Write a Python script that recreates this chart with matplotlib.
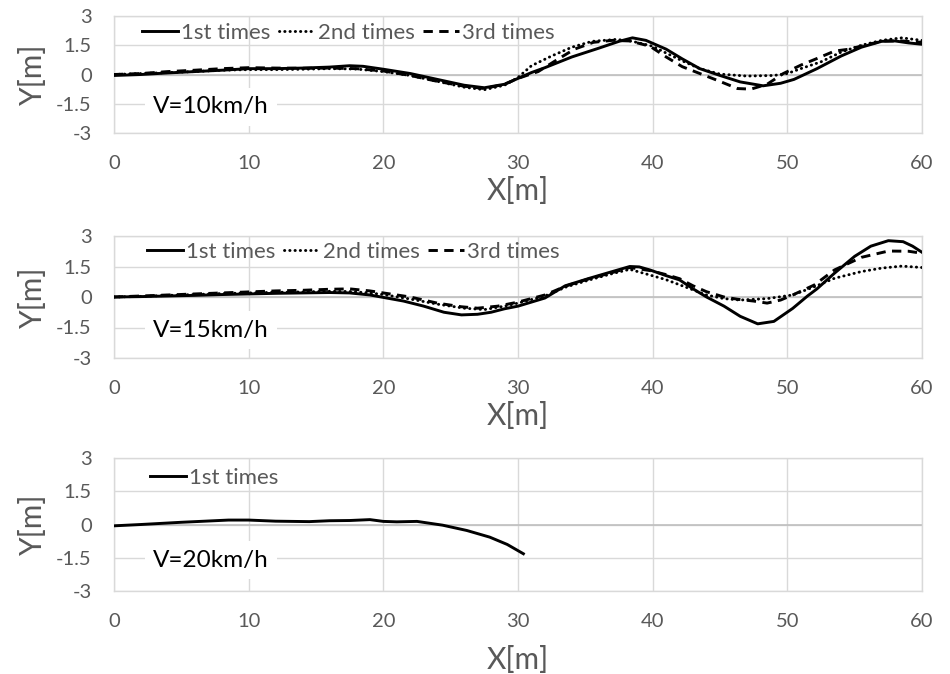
import numpy as np
import matplotlib
matplotlib.use("Agg")
import matplotlib.pyplot as plt

plt.rcParams['font.family'] = ['Lato', 'DejaVu Sans']

# V=10km/h
x10_1 = [0, 2, 4, 6, 8, 10, 12, 14, 16, 17.5, 18.5, 20, 22, 24, 26, 27.5, 29, 30, 31, 32, 34, 36,
         37.5, 38.5, 39.5, 41, 42.2, 43.5, 45, 46.5, 48.2, 49.5, 50.5, 52.2, 54, 55.5, 57, 58, 59, 60]
y10_1 = [-0.05, 0.0, 0.08, 0.15, 0.22, 0.3, 0.3, 0.33, 0.38, 0.45, 0.42, 0.27, 0.05, -0.25, -0.55,
         -0.68, -0.5, -0.2, 0.1, 0.35, 0.9, 1.35, 1.7, 1.88, 1.75, 1.3, 0.8, 0.3, -0.05, -0.38,
         -0.58, -0.45, -0.25, 0.3, 0.95, 1.4, 1.7, 1.72, 1.62, 1.55]
x10_2 = [0, 2, 4, 6, 8, 10, 12, 14, 16, 18, 20, 22, 24, 26, 27.5, 29, 30, 31, 32.5, 34, 35.5, 37.3,
         38.5, 40, 41, 42.2, 43.5, 45, 47, 49, 50, 51, 52.5, 54, 55.5, 57, 58.5, 60]
y10_2 = [0.0, 0.05, 0.1, 0.15, 0.22, 0.25, 0.25, 0.27, 0.3, 0.28, 0.15, -0.05, -0.35, -0.65, -0.78,
         -0.55, -0.15, 0.45, 0.95, 1.4, 1.7, 1.8, 1.7, 1.45, 1.1, 0.7, 0.3, 0.02, -0.08, -0.05,
         0.05, 0.3, 0.65, 1.15, 1.5, 1.75, 1.88, 1.75]
x10_3 = [0, 2, 4, 6, 8, 10, 12, 14, 16, 18, 20, 22, 24, 26, 27.5, 29, 30, 31.5, 33, 34.2, 35.6, 37,
         38.3, 39.8, 41, 42.2, 43.5, 44.8, 46.3, 47.3, 48.5, 49.7, 51, 52.2, 53.5, 54.6, 56, 57.2,
         58.5, 60]
y10_3 = [0.0, 0.05, 0.15, 0.22, 0.3, 0.35, 0.33, 0.32, 0.33, 0.3, 0.18, -0.05, -0.35, -0.6, -0.72,
         -0.5, -0.2, 0.15, 0.8, 1.3, 1.65, 1.75, 1.72, 1.45, 0.9, 0.4, 0.05, -0.3, -0.72, -0.75,
         -0.5, 0.05, 0.48, 0.82, 1.2, 1.3, 1.55, 1.72, 1.72, 1.65]

# V=15km/h
x15_1 = [0, 2, 4, 6, 8, 10, 12, 14, 16, 17.5, 19, 20, 21.5, 23, 24.5, 25.8, 27, 28, 29, 30, 31, 32,
         33.5, 35.3, 37, 38.3, 39, 39.8, 41, 42, 43, 44, 45.3, 46.5, 47.8, 49, 50.4, 51.5, 52.2,
         53.5, 55, 56.2, 57.5, 58.6, 59.3, 60]
y15_1 = [0.0, 0.02, 0.05, 0.08, 0.12, 0.15, 0.18, 0.2, 0.22, 0.2, 0.1, -0.02, -0.2, -0.45, -0.75,
         -0.88, -0.85, -0.75, -0.58, -0.45, -0.25, -0.05, 0.55, 0.92, 1.25, 1.5, 1.48, 1.33, 1.05,
         0.84, 0.4, 0.0, -0.45, -0.95, -1.32, -1.2, -0.56, 0.05, 0.4, 1.17, 2.0, 2.5, 2.77, 2.72,
         2.5, 2.2]
x15_2 = [0, 2, 4, 6, 8, 10, 12, 14, 16, 17.5, 19, 20, 22, 24, 26, 27.5, 29, 30, 32, 33.6, 35.3, 37,
         38.3, 39.8, 41, 42, 43, 44, 45.3, 46.5, 48.5, 50.4, 52, 53.5, 55.5, 57, 58.5, 60]
y15_2 = [0.0, 0.03, 0.08, 0.12, 0.17, 0.2, 0.23, 0.25, 0.28, 0.27, 0.2, 0.12, -0.1, -0.35, -0.55,
         -0.62, -0.45, -0.3, 0.05, 0.5, 0.84, 1.15, 1.36, 1.08, 0.85, 0.6, 0.35, 0.1, -0.08, -0.15,
         -0.08, 0.1, 0.5, 0.92, 1.25, 1.42, 1.52, 1.45]
x15_3 = [0, 2, 4, 6, 8, 10, 12, 14, 16, 17.5, 19, 20, 22, 24, 25.8, 27, 28.5, 30, 32, 33.6, 35.3, 37,
         38.3, 39.8, 41, 42, 43, 44, 45.3, 46.3, 47.5, 48.5, 49.5, 50.4, 52, 53.5, 55.5, 57.5, 59,
         60]
y15_3 = [0.0, 0.05, 0.1, 0.15, 0.2, 0.25, 0.3, 0.33, 0.38, 0.4, 0.3, 0.2, 0.0, -0.3, -0.48, -0.55,
         -0.45, -0.25, 0.1, 0.55, 0.9, 1.2, 1.45, 1.3, 1.1, 0.9, 0.55, 0.26, 0.0, -0.11, -0.2,
         -0.3, -0.15, 0.1, 0.59, 1.33, 1.95, 2.26, 2.25, 2.15]

# V=20km/h
x20_1 = [0, 2, 5, 8.5, 10, 12, 14.5, 16, 17.5, 19, 20, 21, 22.5, 24.4, 26.2, 27.9, 29.2, 30.4]
y20_1 = [-0.06, 0.0, 0.1, 0.2, 0.2, 0.15, 0.13, 0.17, 0.18, 0.22, 0.14, 0.12, 0.14, -0.03, -0.27,
         -0.57, -0.9, -1.32]

labels = ["1st times", "2nd times", "3rd times"]
speeds = ["V=10km/h", "V=15km/h", "V=20km/h"]
xticks = [0, 10, 20, 30, 40, 50, 60]
yticks = [-3, -1.5, 0, 1.5, 3]
ytick_labels = ["-3", "-1.5", "0", "1.5", "3"]

panels = [
    [(x10_1, y10_1), (x10_2, y10_2), (x10_3, y10_3)],
    [(x15_1, y15_1), (x15_2, y15_2), (x15_3, y15_3)],
    [(x20_1, y20_1)],
]

W, H = 950, 674
# pixel boxes: left, right, top, bottom
boxes = [(114, 922, 16, 133), (114, 922, 236, 358), (114, 922, 458, 591)]
xlabel_y = [191, 416, 660]
legend_xy = [(142, 33), (147, 252), (150, 478)]
vtext_y = [107, 330, 560]

styles = [
    dict(linestyle="-"),
    dict(linestyle=(0, (0.1, 1.7)), dash_capstyle="round"),
    dict(linestyle=(0, (3.2, 2.2))),
]

grid_c = "#d9d9d9"
text_c = "#595959"

fig = plt.figure(figsize=(W / 100, H / 100), dpi=100)

for i, series in enumerate(panels):
    l, r, t, b = boxes[i]
    ax = fig.add_axes([l / W, 1 - b / H, (r - l) / W, (b - t) / H])
    for j, (xs, ys) in enumerate(series):
        ax.plot(xs, ys, color="black", lw=2.1, label=labels[j], **styles[j], zorder=3)
    ax.set_xlim(0, 60)
    ax.set_ylim(-3, 3)
    ax.set_xticks(xticks)
    ax.set_yticks(yticks)
    ax.set_yticklabels(ytick_labels)
    ax.grid(True, color=grid_c, lw=1)
    ax.axhline(0, color="#bfbfbf", lw=1.2, zorder=1)
    ax.set_axisbelow(True)
    for s in ax.spines.values():
        s.set_color(grid_c)
        s.set_linewidth(1)
    ax.tick_params(length=0, labelsize=14.5, labelcolor=text_c)
    ax.tick_params(axis="x", pad=16)
    ax.tick_params(axis="y", pad=16)

    ax.set_xlabel("X[m]", fontsize=21.5, color=text_c)
    ax.xaxis.set_label_coords(0.5, (b - xlabel_y[i]) / (b - t))
    ax.xaxis.label.set_va("center")
    ax.set_ylabel("Y[m]", fontsize=21.5, color=text_c)
    ax.yaxis.set_label_coords((33 - l) / (r - l), 0.5)
    ax.yaxis.label.set_va("center")

    lx, ly = legend_xy[i]
    leg = ax.legend(loc="center left", bbox_to_anchor=((lx - l) / (r - l), (b - ly) / (b - t)),
                    ncol=3, frameon=False, fontsize=16, handlelength=1.6, handletextpad=0.14,
                    columnspacing=0.4, borderpad=0, borderaxespad=0)
    for txt in leg.get_texts():
        txt.set_color(text_c)

    ax.text((153 - l) / (r - l), (b - vtext_y[i]) / (b - t), speeds[i], transform=ax.transAxes,
            fontsize=17.5, color="black", va="center", ha="left", zorder=4,
            bbox=dict(facecolor="white", edgecolor="none", pad=6))

fig.savefig("out.png", dpi=100)
